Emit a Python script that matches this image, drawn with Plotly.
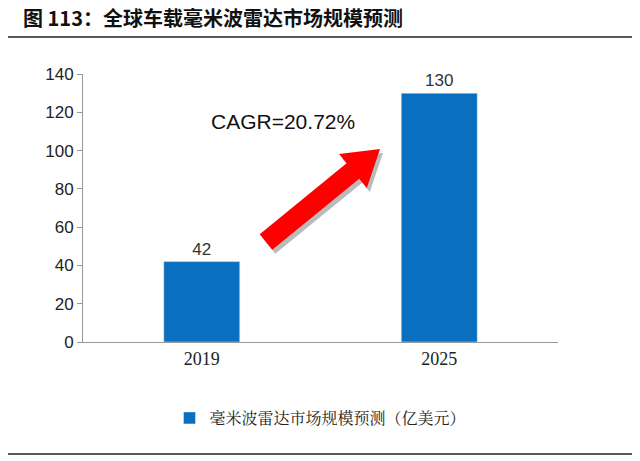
import plotly.graph_objects as go

years = ["2019", "2025"]
values = [42, 130]
series_name = "毫米波雷达市场规模预测（亿美元）"
title = "图 113：全球车载毫米波雷达市场规模预测"
cagr = "CAGR=20.72%"

L, R, T, B = 75, 90, 75, 118
OFF = 9
W, H = 640, 461
pw, ph = W - L - R, H - T - B

def px(x, y):
    return ((x - L) / pw, (H - B - y) / ph)

arrow = [(264.3, 250.8), (351.2, 179.8), (358.8, 189), (372, 150),
         (331.1, 155), (338.6, 164.3), (251.7, 235.3)]

def path(pts, dx=0, dy=0):
    s = ""
    for i, (x, y) in enumerate(pts):
        a, b = px(x + dx, y + dy)
        s += ("M" if i == 0 else "L") + f"{a:.4f},{b:.4f} "
    return s + "Z"

fig = go.Figure(go.Bar(
    x=years, y=values, name=series_name, marker_color="#0A6FBE",
    width=0.32, text=[str(v) for v in values], textposition="outside",
    textfont=dict(family="Liberation Sans", size=17, color="#333"),
    showlegend=True))

fig.update_layout(
    width=W, height=H, margin=dict(l=L, r=R, t=T - OFF, b=B + OFF),
    plot_bgcolor="white", paper_bgcolor="white",
    xaxis=dict(showline=True, linecolor="#999", ticks="", range=[-0.5, 1.5],
               tickfont=dict(family="Liberation Serif", size=18, color="#222")),
    yaxis=dict(range=[0, 140], dtick=20, showline=True, linecolor="#999",
               ticks="outside", ticklen=5, tickcolor="#999", showgrid=False,
               tickfont=dict(family="Liberation Sans", size=17, color="#222")),
    legend=dict(orientation="h", x=0.5, xanchor="center", y=px(0, 402)[1], yanchor="top",
                font=dict(family="Noto Serif CJK SC, Noto Sans CJK SC", size=16, color="#222")),
    shapes=[
        dict(type="path", xref="paper", yref="paper", path=path(arrow, 3, 4),
             fillcolor="rgba(120,120,120,0.5)", line=dict(width=0)),
        dict(type="path", xref="paper", yref="paper", path=path(arrow),
             fillcolor="#FF0000", line=dict(width=0)),
        dict(type="line", xref="paper", yref="paper", x0=-L/pw, x1=(W-L-5)/pw,
             y0=px(0, 38)[1], y1=px(0, 38)[1], line=dict(color="#222", width=1.5)),
        dict(type="line", xref="paper", yref="paper", x0=-L/pw, x1=(W-L-5)/pw,
             y0=px(0, 455)[1], y1=px(0, 455)[1], line=dict(color="#222", width=1.5)),
    ],
    annotations=[
        dict(text=title, xref="paper", yref="paper", x=-62/pw, y=px(0, 18)[1],
             xanchor="left", yanchor="middle", showarrow=False,
             font=dict(family="Noto Sans CJK SC", size=20, color="#111", weight="bold")),
        dict(text=cagr, xref="paper", yref="paper", x=px(275, 122)[0], y=px(275, 122)[1],
             xanchor="center", yanchor="middle", showarrow=False,
             font=dict(family="Liberation Sans", size=21, color="#111")),
    ])

fig.write_html("out.html")
